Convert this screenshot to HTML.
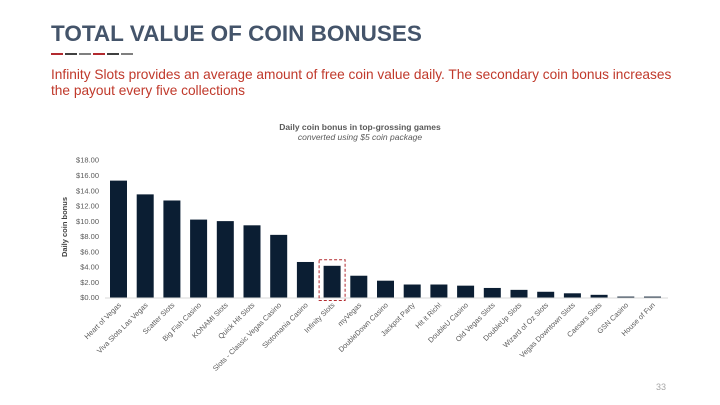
<!DOCTYPE html>
<html><head><meta charset="utf-8"><style>
html,body{margin:0;padding:0;background:#fff;width:720px;height:405px;overflow:hidden}
svg text{font-family:"Liberation Sans",Arial,sans-serif}
</style></head><body>
<svg id="s" width="720" height="405" viewBox="0 0 720 405">
<text x="51" y="41" font-size="22.5" font-weight="bold" fill="#44546a">TOTAL VALUE OF COIN BONUSES</text>
<g>
<rect x="51" y="53" width="12" height="2" fill="#b22a2f"/><rect x="65" y="53" width="12" height="2" fill="#404040"/><rect x="79" y="53" width="12" height="2" fill="#7f7f7f"/>
<rect x="93" y="53" width="12" height="2" fill="#b22a2f"/><rect x="107" y="53" width="12" height="2" fill="#404040"/><rect x="121" y="53" width="12" height="2" fill="#7f7f7f"/>
</g>
<text x="51" y="79" font-size="13.7" fill="#c0392b">Infinity Slots provides an average amount of free coin value daily. The secondary coin bonus increases</text>
<text x="51" y="95" font-size="13.7" fill="#c0392b">the payout every five collections</text>
<text x="360" y="130" font-size="8.5" font-weight="bold" fill="#595959" text-anchor="middle">Daily coin bonus in top-grossing games</text>
<text x="360" y="140" font-size="8.5" font-style="italic" fill="#595959" text-anchor="middle">converted using $5 coin package</text>
<text transform="translate(67,227) rotate(-90)" font-size="7.5" font-weight="bold" fill="#404040" text-anchor="middle">Daily coin bonus</text>
<g id="chart"></g>
<text x="666" y="390" font-size="9" fill="#a6a6a6" text-anchor="end">33</text>
</svg>
<script>
const categories=["Heart of Vegas","Viva Slots Las Vegas","Scatter Slots","Big Fish Casino","KONAMI Slots","Quick Hit Slots","Slots - Classic Vegas Casino","Slotomania Casino","Infinity Slots","myVegas","DoubleDown Casino","Jackpot Party","Hit it Rich!","DoubleU Casino","Old Vegas Slots","DoubleUp Slots","Wizard of Oz Slots","Vegas Downtown Slots","Caesars Slots","GSN Casino","House of Fun"];
const values=[15.3,13.5,12.7,10.2,10.0,9.45,8.2,4.65,4.15,2.85,2.2,1.7,1.7,1.55,1.25,1.0,0.75,0.55,0.35,0.12,0.12];
const yTicks=[0,2,4,6,8,10,12,14,16,18];
const tickLabels=["$0.00","$2.00","$4.00","$6.00","$8.00","$10.00","$12.00","$14.00","$16.00","$18.00"];
const highlight="Infinity Slots";
const NS="http://www.w3.org/2000/svg";
const g=document.getElementById('chart');
const y0=297.5,y1=160,vmax=18,x0=105,step=26.7,bw=17;
function yS(v){return y0-(v/vmax)*(y0-y1);}
function xS(i){return 118.5+i*step;}
function mk(t,a){const e=document.createElementNS(NS,t);for(const k in a)e.setAttribute(k,a[k]);g.appendChild(e);return e;}
yTicks.forEach((v,i)=>{
 const t=mk('text',{x:99,y:yS(v)+2.7,'font-size':7.5,fill:'#595959','text-anchor':'end'});
 t.textContent=tickLabels[i];
 
 
});
const ax=mk('line',{x1:x0,x2:668,y1:y0+0.5,y2:y0+0.5,stroke:'#d9d9d9','stroke-width':1});


categories.forEach((c,i)=>{
 const cx=xS(i);
 const r=mk('rect',{x:cx-bw/2,y:yS(values[i]),width:bw,height:y0-yS(values[i]),fill:'#0b1e33'});
 
 
 const t=mk('text',{transform:`translate(${cx+3},${y0+8}) rotate(-45)`,'font-size':7.3,fill:'#595959','text-anchor':'end'});
 t.textContent=c;
 
 
 if(c===highlight){
  const b=mk('rect',{x:cx-13,y:yS(values[i])-6,width:26,height:y0-yS(values[i])+9,fill:'none',stroke:'#b22a2f','stroke-width':1,'stroke-dasharray':'3,2'});
  
  
 }
});
</script>
</body></html>
